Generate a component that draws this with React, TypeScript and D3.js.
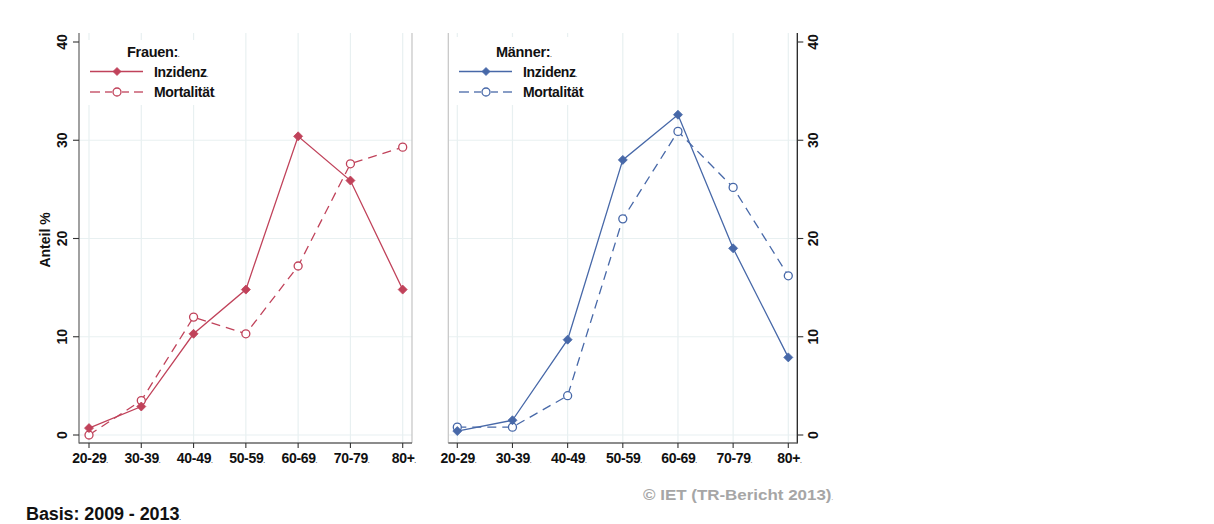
import React from "react";
import * as d3 from "d3";

const categories = ["20-29", "30-39", "40-49", "50-59", "60-69", "70-79", "80+"];
const frauenInzidenz = [0.7, 2.9, 10.3, 14.8, 30.4, 25.9, 14.8];
const frauenMortalitaet = [0.0, 3.5, 12.0, 10.3, 17.2, 27.6, 29.3];
const maennerInzidenz = [0.4, 1.5, 9.7, 28.0, 32.6, 19.0, 7.9];
const maennerMortalitaet = [0.8, 0.8, 4.0, 22.0, 30.9, 25.2, 16.2];
const yTicks = [0, 10, 20, 30, 40];
const gridTicks = [0, 10, 20, 30];

const RED = "#c0425a";
const BLUE = "#4768a8";
const GRID = "#e8f0f1";
const FONT = "'Liberation Sans', Arial, sans-serif";

type PanelProps = {
  x0: number;
  x1: number;
  left: number;
  right: number;
  axisSide: "left" | "right";
  inz: number[];
  mort: number[];
  color: string;
  title: string;
  legendX: number;
  legendBox: [number, number, number, number];
};

const y = d3.scaleLinear().domain([0, 40]).range([435, 42]);
const TOP = 33;
const XAXIS_Y = 443;

function Diamond({ cx, cy, color, s = 4.5 }: { cx: number; cy: number; color: string; s?: number }) {
  return (
    <path
      d={`M${cx},${cy - s}L${cx + s},${cy}L${cx},${cy + s}L${cx - s},${cy}Z`}
      fill={color}
      stroke={color}
      strokeWidth={0.8}
    />
  );
}

function Circle({ cx, cy, color }: { cx: number; cy: number; color: string }) {
  return <circle cx={cx} cy={cy} r={4} fill="white" stroke={color} strokeWidth={1.3} />;
}

function Panel(p: PanelProps) {
  const x = d3.scalePoint<string>().domain(categories).range([p.x0, p.x1]);
  const line = d3
    .line<number>()
    .x((_, i) => x(categories[i]) as number)
    .y((d) => y(d));
  const axisX = p.axisSide === "left" ? p.left : p.right;
  const borderX = p.axisSide === "left" ? p.right : p.left;
  const tickDir = p.axisSide === "left" ? -1 : 1;
  const labelX = p.axisSide === "left" ? p.left - 17 : p.right + 16;
  const [bx, by, bw, bh] = p.legendBox;
  const lx = p.legendX;
  const dashSegs: [number, number][] = [
    [0, 10],
    [15, 22],
    [32, 39],
    [44, 53],
  ];
  return (
    <g>
      {categories.map((c) => (
        <line key={c} x1={x(c)} x2={x(c)} y1={TOP} y2={XAXIS_Y} stroke={GRID} strokeWidth={1.2} />
      ))}
      {gridTicks.map((t) => (
        <line key={t} x1={p.left} x2={p.right} y1={y(t)} y2={y(t)} stroke={GRID} strokeWidth={1.2} />
      ))}
      <line x1={borderX} x2={borderX} y1={TOP} y2={XAXIS_Y} stroke="#c4c4c4" strokeWidth={1.2} />
      <line x1={axisX} x2={axisX} y1={TOP} y2={XAXIS_Y + 0.5} stroke={p.axisSide === "left" ? "#6e6e6e" : "#222"} strokeWidth={1.3} />
      <line x1={p.left} x2={p.right} y1={XAXIS_Y} y2={XAXIS_Y} stroke="#666" strokeWidth={1.3} />
      {yTicks.map((t) => (
        <g key={t}>
          <line x1={axisX} x2={axisX + tickDir * 6} y1={y(t)} y2={y(t)} stroke="#333" strokeWidth={1.1} />
          <text
            transform={`translate(${labelX},${y(t)}) rotate(-90)`}
            textAnchor="middle"
            dominantBaseline="central"
            fontFamily={FONT}
            fontWeight="bold"
            fontSize={14}
            fill="#111"
          >
            {t}
          </text>
        </g>
      ))}
      {categories.map((c) => (
        <g key={c}>
          <line x1={x(c)} x2={x(c)} y1={XAXIS_Y} y2={XAXIS_Y + 5} stroke="#333" strokeWidth={1.1} />
          <text
            x={(x(c) as number) + 1}
            y={463}
            textAnchor="middle"
            fontFamily={FONT}
            fontWeight="bold"
            fontSize={14}
            fill="#111"
            letterSpacing={-0.3}
          >
            {c}
            <tspan fontSize={5}>.</tspan>
          </text>
        </g>
      ))}
      <rect x={bx} y={by} width={bw} height={bh} fill="white" />
      <path d={line(p.mort) || ""} fill="none" stroke={p.color} strokeWidth={1.3} strokeDasharray="9,6" />
      <path d={line(p.inz) || ""} fill="none" stroke={p.color} strokeWidth={1.3} />
      {p.mort.map((v, i) => (
        <Circle key={"m" + i} cx={x(categories[i]) as number} cy={y(v)} color={p.color} />
      ))}
      {p.inz.map((v, i) => (
        <Diamond key={"i" + i} cx={x(categories[i]) as number} cy={y(v)} color={p.color} />
      ))}
      <text x={lx + 37} y={57} fontFamily={FONT} fontWeight="bold" fontSize={14.5} fill="#111" letterSpacing={-0.3}>
        {p.title}
        <tspan fontSize={5}>.</tspan>
      </text>
      <line x1={lx} x2={lx + 53} y1={71.5} y2={71.5} stroke={p.color} strokeWidth={1.3} />
      <Diamond cx={lx + 27} cy={71.5} color={p.color} s={4} />
      <text x={lx + 64} y={76.5} fontFamily={FONT} fontWeight="bold" fontSize={14} fill="#111" letterSpacing={-0.3}>
        Inzidenz
        <tspan fontSize={5}>.</tspan>
      </text>
      {dashSegs.map(([a, b], i) => (
        <line key={i} x1={lx + a} x2={lx + b} y1={92} y2={92} stroke={p.color} strokeWidth={1.3} />
      ))}
      <Circle cx={lx + 27} cy={92} color={p.color} />
      <text x={lx + 64} y={97} fontFamily={FONT} fontWeight="bold" fontSize={14} fill="#111" letterSpacing={-0.3}>
        Mortalität
        <tspan fontSize={5}>.</tspan>
      </text>
    </g>
  );
}

export default function App() {
  return (
    <svg
      width={1214}
      height={524}
      style={{ position: "absolute", left: 0, top: 0, background: "white" }}
    >
      <rect x={0} y={0} width={1214} height={524} fill="white" />
      <Panel
        x0={89}
        x1={402.7}
        left={79}
        right={412}
        axisSide="left"
        inz={frauenInzidenz}
        mort={frauenMortalitaet}
        color={RED}
        title="Frauen:"
        legendX={90}
        legendBox={[84, 40, 140, 65]}
      />
      <Panel
        x0={457.3}
        x1={788.3}
        left={448.3}
        right={797.3}
        axisSide="right"
        inz={maennerInzidenz}
        mort={maennerMortalitaet}
        color={BLUE}
        title="Männer:"
        legendX={459}
        legendBox={[452, 37, 145, 68]}
      />
      <text
        transform="translate(45,240) rotate(-90)"
        textAnchor="middle"
        dominantBaseline="central"
        fontFamily={FONT}
        fontWeight="bold"
        fontSize={14}
        fill="#111"
      >
        Anteil %
      </text>
      <text x={643} y={500} fontFamily={FONT} fontWeight="bold" fontSize={15.5} fill="#a6a6a6" textLength={190} lengthAdjust="spacingAndGlyphs">
        © IET (TR-Bericht 2013)
        <tspan fontSize={5}>.</tspan>
      </text>
      <text x={26} y={520} fontFamily={FONT} fontWeight="bold" fontSize={18} fill="#111" letterSpacing={-0.1}>
        Basis: 2009 - 2013
        <tspan fontSize={6}>.</tspan>
      </text>
    </svg>
  );
}
